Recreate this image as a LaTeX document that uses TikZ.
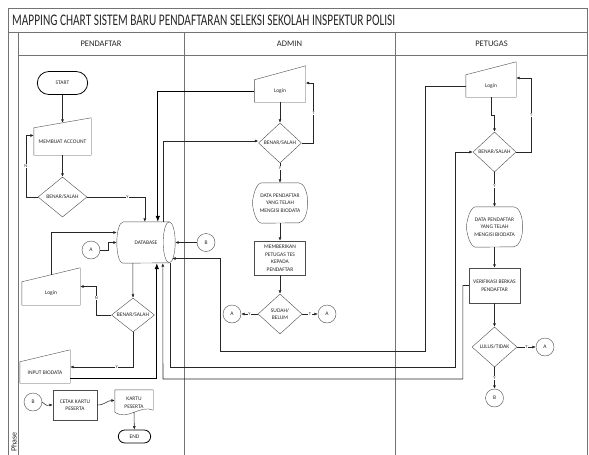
\documentclass[tikz,border=0pt]{standalone}
\usepackage{fontspec}
\usepackage{graphicx}
\setmainfont{Carlito}
\usetikzlibrary{shapes.geometric,shapes.misc,arrows.meta,positioning}

\tikzset{
  every node/.style={font=\fontsize{5.5}{7.5}\selectfont, text=black!85},
  lane/.style={draw=black!55, line width=0.6pt},
  lanehead/.style={font=\fontsize{8.5}{10}\selectfont},
  box/.style={draw=black!70, minimum width=51pt, minimum height=34pt, align=center, inner sep=1pt},
  term/.style={draw=black, line width=0.8pt, rounded rectangle, minimum width=57pt, minimum height=23pt},
  decision/.style={draw=black!70, diamond, aspect=1.1, inner sep=0pt, minimum width=44pt, minimum height=40pt, align=center},
  conn/.style={draw=black!70, circle, minimum size=18pt, inner sep=0pt},
  lbl/.style={fill=white, inner sep=0.6pt, font=\fontsize{4.5}{5}\selectfont},
  flow/.style={draw=black!85, line width=0.55pt, -{Latex[length=3.5pt,width=3pt]}},
  bigflow/.style={draw=black, line width=0.8pt, -{Latex[length=6pt,width=4.5pt]}}
}

% outlines for the flowchart symbols
\newcommand{\mininput}[2]{\draw[draw=black!70] (#1.north west) -- (#1.south west) -- (#1.south east) -- ([yshift=#2]#1.north east) -- cycle;}
\newcommand{\dispout}[1]{\draw[draw=black!70] ([xshift=9pt]#1.north west) -- ([xshift=-9pt]#1.north east)
  arc[start angle=90, end angle=-90, x radius=9pt, y radius=20pt] -- ([xshift=9pt]#1.south west)
  .. controls +(-5pt,1pt) and +(1pt,-9pt) .. (#1.west) .. controls +(1pt,9pt) and +(-5pt,-1pt) .. ([xshift=9pt]#1.north west) -- cycle;}
\newcommand{\docout}[1]{\draw[draw=black!70] (#1.north west) -- ([yshift=3pt]#1.south west)
  .. controls +(13pt,-9pt) and +(-13pt,6pt) .. ([yshift=5pt]#1.south east) -- (#1.north east) -- cycle;}
\newcommand{\dbout}[1]{\draw[draw=black!70] ([xshift=6pt]#1.north west) -- ([xshift=-6pt]#1.north east)
  arc[start angle=90, end angle=-90, x radius=6pt, y radius=20.5pt] -- ([xshift=6pt]#1.south west)
  arc[start angle=270, end angle=90, x radius=6pt, y radius=20.5pt];
  \draw[draw=black!70] ([xshift=-6pt]#1.north east) arc[start angle=90, end angle=270, x radius=6pt, y radius=20.5pt];}

\begin{document}
\begin{tikzpicture}[x=1pt,y=-1pt]
\useasboundingbox (0,0) rectangle (589,455);

% frame and swimlanes
\draw[lane] (8,455) -- (8,8) -- (587.5,8) -- (587.5,455);
\draw[lane] (8,32) -- (587.5,32);
\draw[lane] (18,55) -- (587.5,55);
\draw[lane] (18,32) -- (18,455);
\draw[lane] (184,32) -- (184,455);
\draw[lane] (395,32) -- (395,455);
\node[anchor=base west, inner sep=0pt] (title) at (12,26)
  {\resizebox{383pt}{10.5pt}{MAPPING CHART SISTEM BARU PENDAFTARAN SELEKSI SEKOLAH INSPEKTUR POLISI}};
\node[lanehead] (hpendaftar) at (101,44) {PENDAFTAR};
\node[lanehead] (hadmin) at (289.5,44) {ADMIN};
\node[lanehead] (hpetugas) at (491.5,44) {PETUGAS};
\node[rotate=90, anchor=south west, inner sep=1pt, font=\fontsize{8}{10}\selectfont] (phase) at (18,453) {Phase};

% PENDAFTAR
\node[term] (start) at (62.5,83) {START};
\node[minimum width=57pt, minimum height=27pt] (account) at (62.5,141.5) {MEMBUAT ACCOUNT};
\mininput{account}{10pt}
\node[decision, minimum width=49pt] (cek1) at (62.5,197) {BENAR/SALAH};
\node[minimum width=58pt, minimum height=41pt] (db) at (146,242.5) {DATABASE};
\dbout{db}
\node[conn] (a1) at (91,250) {A};
\node[minimum width=58pt, minimum height=23pt] (loginp) at (51,293.5) {Login};
\mininput{loginp}{14pt}
\node[decision, minimum width=43pt, minimum height=34pt] (cek2) at (133,315) {BENAR/SALAH};
\node[minimum width=50pt, minimum height=21pt] (biodata) at (45,372.5) {INPUT BIODATA};
\mininput{biodata}{12pt}
\node[conn] (b1) at (33,402) {B};
\node[box, minimum width=44pt, minimum height=30pt] (cetak) at (75,405) {CETAK KARTU\\PESERTA};
\node[minimum width=38pt, minimum height=25pt, align=center, inner sep=1pt] (kartu) at (134,402.5) {KARTU\\PESERTA};
\docout{kartu}
\node[term, minimum width=39pt, minimum height=13pt] (end) at (134.5,436.5) {END};

% ADMIN
\node[minimum width=51pt, minimum height=22pt] (logina) at (280,91) {Login};
\mininput{logina}{14pt}
\node[decision, minimum width=43pt] (ceka) at (280,143) {BENAR/SALAH};
\node[minimum width=55pt, minimum height=40pt, align=center, inner sep=1pt] (dataa) at (280,203) {DATA PENDAFTAR\\YANG TELAH\\MENGISI BIODATA};
\dispout{dataa}
\node[box] (beri) at (280,258) {MEMBERIKAN\\PETUGAS TES\\KEPADA\\PENDAFTAR};
\node[decision] (sudah) at (280,314) {SUDAH/\\BELUM};
\node[conn] (a2) at (232,314) {A};
\node[conn] (a3) at (327,314) {A};
\node[conn] (b2) at (206,242.5) {B};

% PETUGAS
\node[minimum width=50pt, minimum height=22pt] (logint) at (491,86) {Login};
\mininput{logint}{13pt}
\node[decision, minimum width=43pt] (cekt) at (494.5,152) {BENAR/SALAH};
\node[minimum width=56pt, minimum height=40pt, align=center, inner sep=1pt] (datat) at (494.5,227) {DATA PENDAFTAR\\YANG TELAH\\MENGISI BIODATA};
\dispout{datat}
\node[box, minimum height=35pt] (verif) at (494.5,285.5) {VERIFIKASI BERKAS\\PENDAFTAR};
\node[decision, minimum width=45pt] (lulus) at (494.5,347) {LULUS/TIDAK};
\node[conn] (a4) at (545,347) {A};
\node[conn] (b3) at (494.5,398) {B};

% connectors PENDAFTAR
\draw[flow] (start) -- ([yshift=5pt]account.north);
\draw[flow] (account) -- (cek1);
\draw[flow] (cek1.west) -- ++(-12,0) |- ([yshift=6pt]account.west) node[lbl, pos=0.25] {N};
\draw[flow] (cek1.east) -| ([xshift=28pt]db.north west) node[lbl, pos=0.35] {Y};
\draw[flow] (a1.east) -- ++(8,0) |- (db.west);
\draw[flow] ([yshift=7pt]loginp.north) |- ([yshift=10pt]db.west);
\draw[flow] ([xshift=16pt]db.south west) -- (cek2.north);
\draw[flow] (cek2.west) -- ++(-15,0) |- ([yshift=7pt]loginp.east) node[lbl, pos=0.3] {N};
\draw[flow] (cek2.south) |- ([yshift=5.5pt]biodata.east) node[lbl, pos=0.63] {Y};
\draw[bigflow] ([yshift=-6pt]biodata.east) -| ([xshift=40pt]db.south west);
\draw[flow] (b1.east) .. controls +(6pt,-5pt) and +(-6pt,0pt) .. (cetak.west);
\draw[flow] (cetak.east) .. controls +(8pt,0pt) and +(-8pt,0pt) .. ([yshift=2pt]kartu.west);
\draw[flow] ([yshift=3pt]kartu.south) -- (end);

% connectors ADMIN
\draw[flow] (logina) -- (ceka);
\draw[flow] (ceka.east) -- ++(12,0) |- ([yshift=8pt]logina.east) node[lbl, pos=0.25] {T};
\draw[flow] (ceka) -- (dataa) node[lbl, pos=0.25] {Y};
\draw[flow] (dataa) -- (beri);
\draw[flow] (beri) -- (sudah);
\draw[flow] (sudah) -- (a2) node[lbl, midway] {Y};
\draw[flow] (sudah) -- (a3) node[lbl, midway] {T};
\draw[bigflow] (logina.west) -| ([xshift=41pt]db.north west);
\draw[flow] ([xshift=46pt]db.north west) |- ([yshift=2pt]ceka.west);
\draw[flow] (b2) -- (db.east);

% connectors PETUGAS
\draw[flow] (logint.south) -- ++(0,18) -| (cekt.north);
\draw[flow] (cekt.east) -- ++(15,0) |- ([yshift=8pt]logint.east) node[lbl, pos=0.25] {T};
\draw[flow] (cekt) -- (datat) node[lbl, pos=0.4] {Y};
\draw[flow] (datat) -- (verif);
\draw[flow] (verif) -- (lulus);
\draw[flow] (lulus) -- (a4) node[lbl, midway] {T};
\draw[flow] (lulus) -- (b3) node[lbl, midway] {Y};
\draw[flow] (logint.west) -- ++(-41,0) |- (220,351) |- ([xshift=-3pt,yshift=-16pt]db.east);
\draw[flow] ([xshift=53pt]db.south west) |- (455,367) |- (cekt.west);
\draw[flow] (verif.west) -- ++(-6,0) |- (163,379) -- ([xshift=46pt]db.south west);
\end{tikzpicture}
\end{document}
